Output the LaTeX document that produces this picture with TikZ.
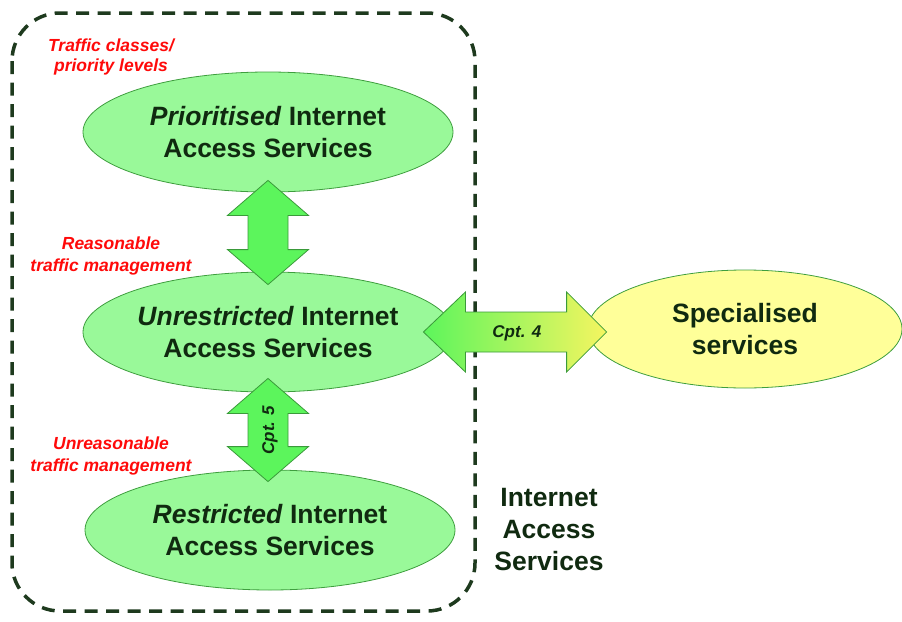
\documentclass[tikz,border=0pt]{standalone}
\usepackage{fontspec}
\setmainfont{Liberation Sans}
\usetikzlibrary{calc,shapes.geometric}

\definecolor{boxline}{HTML}{1E3A1E}
\definecolor{ellfill}{HTML}{99F999}
\definecolor{ellline}{HTML}{3E9E3E}
\definecolor{specfill}{HTML}{FFFF99}
\definecolor{arrfill}{HTML}{5CF55C}
\definecolor{arrline}{HTML}{3A9A3A}
\definecolor{arryellow}{HTML}{F5F560}
\definecolor{txt}{HTML}{102A10}
\definecolor{note}{HTML}{FF0A0A}

% vertical double block arrow between two tips (top, bottom)
\newcommand\vdblarrow[3]{%
  \draw[#3] let \p1=(#1), \p2=(#2) in
    (\x1,\y1) -- (\x1+40.5pt,\y1-35pt) -- (\x1+20pt,\y1-35pt)
    -- (\x1+20pt,\y2+35pt) -- (\x1+40.5pt,\y2+35pt) -- (\x1,\y2)
    -- (\x1-40.5pt,\y2+35pt) -- (\x1-20pt,\y2+35pt)
    -- (\x1-20pt,\y1-35pt) -- (\x1-40.5pt,\y1-35pt) -- cycle;}

% horizontal double block arrow between two tips (left, right)
\newcommand\hdblarrow[3]{%
  \draw[#3] let \p1=(#1), \p2=(#2) in
    (\x1,\y1) -- (\x1+42pt,\y1+40pt) -- (\x1+42pt,\y1+20pt)
    -- (\x2-40pt,\y1+20pt) -- (\x2-40pt,\y1+40pt) -- (\x2,\y1)
    -- (\x2-40pt,\y1-40pt) -- (\x2-40pt,\y1-20pt)
    -- (\x1+42pt,\y1-20pt) -- (\x1+42pt,\y1-40pt) -- cycle;}

\tikzset{
  service/.style={ellipse, draw=ellline, line width=0.8pt, fill=ellfill,
    minimum width=370pt, minimum height=120pt, inner sep=0pt, align=center,
    text=txt, font=\fontsize{26.5}{31.5}\selectfont\bfseries},
  specbox/.style={service, fill=specfill, minimum width=314pt, minimum height=118pt},
  biglabel/.style={align=center, text=txt, font=\fontsize{26.5}{32}\selectfont\bfseries},
  notelabel/.style={align=center, text=note, inner sep=0pt,
    font=\fontsize{17.5}{22.5}\selectfont\bfseries\itshape},
  cptlabel/.style={text=txt, inner sep=0pt, font=\fontsize{17}{19}\selectfont\bfseries\itshape},
  greenarrow/.style={draw=arrline, line width=0.8pt, fill=arrfill, line join=miter},
  mixarrow/.style={draw=arrline, line width=0.8pt, left color=arrfill,
    right color=arryellow, line join=miter},
  groupbox/.style={draw=boxline, line width=3.5pt, dash pattern=on 13pt off 8.5pt,
    rounded corners=48pt}
}

\begin{document}
\begin{tikzpicture}[x=1pt,y=1pt]
  \useasboundingbox (0,0) rectangle (902,-621);

  % dashed frame around the internet access services
  \draw[groupbox] (12,-13) rectangle (475,-611);

  % service ellipses
  \node[service] (pri) at (268,-132) {\textit{Prioritised} Internet\\Access Services};
  \node[service] (unr) at (268,-332) {\textit{Unrestricted} Internet\\Access Services};
  \node[service] (res) at (270,-530) {\textit{Restricted} Internet\\Access Services};
  \node[specbox] (spec) at (745,-329) {Specialised\\services};

  % arrow end points
  \coordinate (a1) at ($(pri.south)+(0,12)$);
  \coordinate (a2) at ($(unr.north)+(0,-13)$);
  \coordinate (b1) at ($(unr.south)+(0,14)$);
  \coordinate (b2) at ($(res.north)+(-2,-12)$);
  \coordinate (c1) at ($(unr.east)+(-30,0)$);
  \coordinate (c2) at ($(spec.west)+(19,-3)$);

  % connectors
  \vdblarrow{a1}{a2}{greenarrow}
  \vdblarrow{b1}{b2}{greenarrow}
  \hdblarrow{c1}{c2}{mixarrow}

  \node[cptlabel] (cpt4) at ($(c1)!0.51!(c2)+(0,-1)$) {Cpt. 4};
  \node[cptlabel, rotate=90] (cpt5) at ($(b1)!0.5!(b2)+(2,0)$) {Cpt. 5};

  % annotations
  \node[notelabel, font=\fontsize{17.5}{20}\selectfont\bfseries\itshape] (n1) at (111,-57) {Traffic classes/\\priority levels};
  \node[notelabel] (n2) at (111,-256) {Reasonable\\traffic management};
  \node[notelabel] (n3) at (111,-456) {Unreasonable\\traffic management};

  \node[biglabel] (ias) at (549,-530) {Internet\\Access\\Services};
\end{tikzpicture}
\end{document}
